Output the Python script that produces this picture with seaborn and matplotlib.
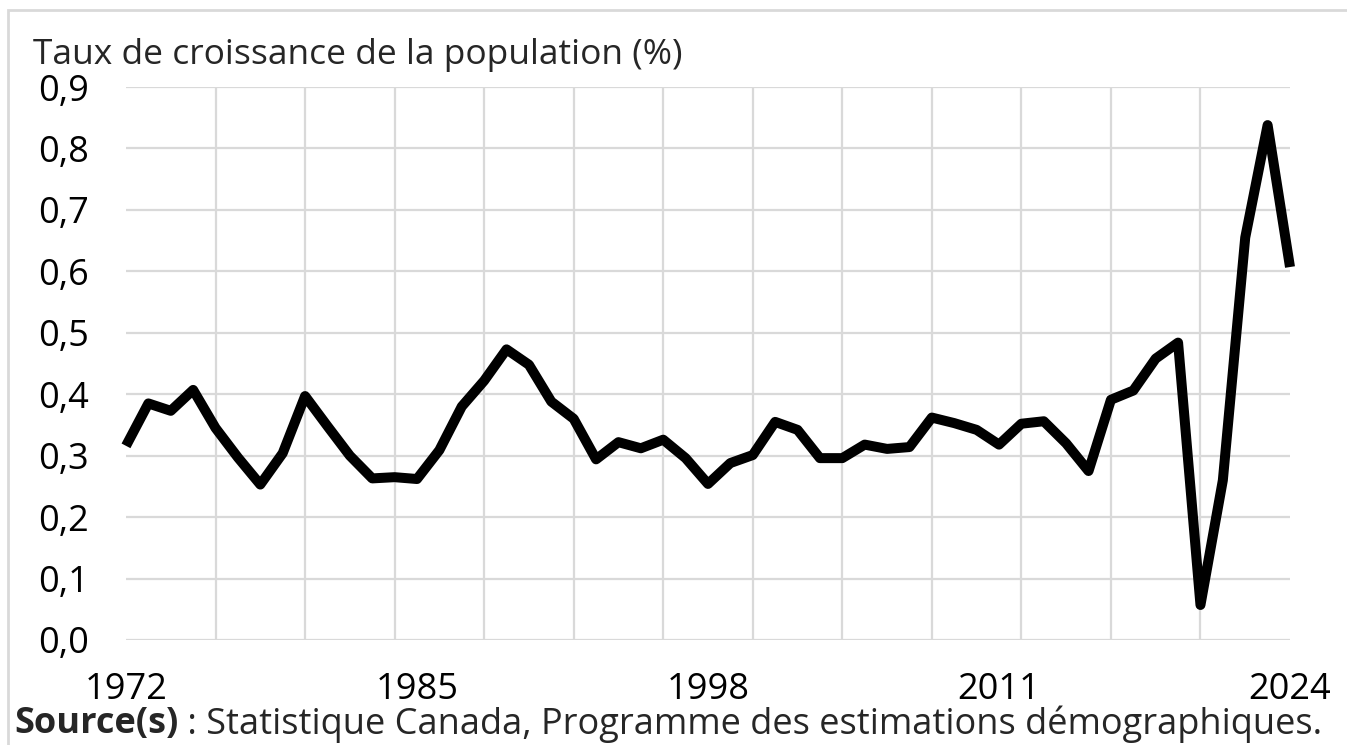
import matplotlib
matplotlib.use("Agg")
import matplotlib.pyplot as plt
import matplotlib.patches as mpatches
from matplotlib.ticker import FixedLocator, FuncFormatter
import seaborn as sns

YEARS = list(range(1972, 2025))
GROWTH = [
    0.316, 0.385, 0.373, 0.407, 0.345, 0.297, 0.253, 0.304, 0.397, 0.348,
    0.300, 0.263, 0.265, 0.262, 0.309, 0.380, 0.422, 0.473, 0.448, 0.388,
    0.360, 0.294, 0.322, 0.312, 0.326, 0.296, 0.254, 0.288, 0.301, 0.355,
    0.342, 0.296, 0.296, 0.318, 0.311, 0.314, 0.362, 0.353, 0.342, 0.318,
    0.352, 0.356, 0.320, 0.275, 0.391, 0.406, 0.458, 0.484, 0.057, 0.260,
    0.655, 0.838, 0.607,
]
YEAR_LABELS = [1972, 1985, 1998, 2011, 2024]
Y_TICKS = [0.0, 0.1, 0.2, 0.3, 0.4, 0.5, 0.6, 0.7, 0.8, 0.9]

TITLE = "Taux de croissance de la population (%)"
SOURCE_BOLD = "Source(s)"
SOURCE_REST = " : Statistique Canada, Programme des estimations démographiques."

W, H = 1347, 745
GRID = "#d9d9d9"
FS = 26

sns.set_theme(style="white")
plt.rcParams["font.family"] = ["Open Sans", "DejaVu Sans"]

fig = plt.figure(figsize=(W / 100, H / 100), dpi=100)
ax = fig.add_axes([126 / W, 1 - 640 / H, (1290 - 126) / W, (640 - 87) / H])

# gridlines first, the line sits on top
ax.xaxis.set_minor_locator(FixedLocator(list(range(1972, 2025, 4))))
ax.set_xticks(YEAR_LABELS)
ax.set_yticks(Y_TICKS)
ax.grid(which="minor", axis="x", color=GRID, linewidth=1.6)
ax.grid(which="major", axis="y", color=GRID, linewidth=1.6)
ax.set_axisbelow(True)

sns.lineplot(x=YEARS, y=GROWTH, ax=ax, color="black", linewidth=7.2,
             solid_capstyle="butt", solid_joinstyle="round", clip_on=False)

ax.set_xlim(1972, 2024)
ax.set_ylim(0, 0.9)
for s in ax.spines.values():
    s.set_visible(False)
ax.tick_params(which="both", length=0)
ax.tick_params(axis="x", labelsize=FS, pad=23, colors="black")
ax.tick_params(axis="y", labelsize=FS, pad=27, colors="black")
ax.yaxis.set_major_formatter(FuncFormatter(lambda v, _: f"{v:.1f}".replace(".", ",")))
ax.set_xlabel("")
ax.set_ylabel("")

fig.text(33 / W, 1 - 55 / H, TITLE, fontsize=FS - 0.5, va="center", ha="left")

src = fig.text(14 / W, 1 - 724 / H, SOURCE_BOLD, fontsize=FS, fontweight="bold",
               va="center", ha="left")
ax.annotate(SOURCE_REST, xy=(1, 0.5), xycoords=src, fontsize=FS,
            va="center", ha="left", annotation_clip=False)

# chart-area frame
fig.patches.append(mpatches.Rectangle((8 / W, -0.1), 1.2, 1 - 10 / H + 0.1,
                                      transform=fig.transFigure, fill=False,
                                      edgecolor=GRID, linewidth=2))

fig.savefig("out.png", dpi=100)
